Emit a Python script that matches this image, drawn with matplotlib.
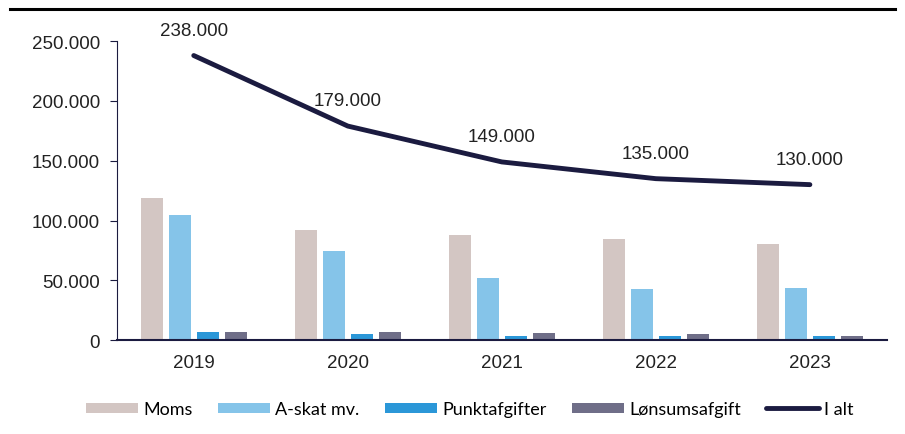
import matplotlib.pyplot as plt
import numpy as np
from matplotlib.lines import Line2D
from matplotlib.ticker import FuncFormatter

plt.rcParams['font.family'] = ['Liberation Sans', 'DejaVu Sans']

years = ["2019", "2020", "2021", "2022", "2023"]
moms = [119000, 92000, 87800, 84400, 80000]
askat = [104500, 74400, 51800, 42600, 43400]
punkt = [6700, 5300, 3500, 3500, 3500]
loen = [6700, 6700, 5500, 4700, 3000]
i_alt = [238000, 179000, 149000, 135000, 130000]

navy = "#1B1B40"
fig = plt.figure(figsize=(9.05, 4.35), dpi=100)
ax = fig.add_axes([0.129, 0.216, 0.851, 0.687])

x = np.arange(len(years))
w = 0.143
step = 0.182
series = [("Moms", moms, "#D3C6C3"), ("A-skat mv.", askat, "#85C4E9"),
          ("Punktafgifter", punkt, "#2B97D8"), ("Lønsumsafgift", loen, "#6F6E88")]
for i, (name, vals, col) in enumerate(series):
    ax.bar(x + (i - 1.5) * step, vals, width=w, color=col, label=name)

ax.plot(x, i_alt, color=navy, lw=3.5, solid_capstyle="round", label="I alt")
for xi, v in zip(x, i_alt):
    ax.annotate(f"{v:,}".replace(",", "."), (xi, v), xytext=(0, 15),
                textcoords="offset points", ha="center", fontsize=13.5,
                color="#222222")

ax.set_xlim(-0.5, 4.5)
ax.set_ylim(0, 250000)
ax.set_yticks(range(0, 250001, 50000))
ax.yaxis.set_major_formatter(FuncFormatter(lambda v, p: f"{int(v):,}".replace(",", ".")))
ax.set_xticks(x)
ax.set_xticklabels(years)
ax.tick_params(axis="x", length=0, pad=10, labelsize=13.5, labelcolor="#222222")
ax.tick_params(axis="y", length=5, color=navy, labelsize=13.5, pad=7, labelcolor="#222222")
for s in ["top", "right"]:
    ax.spines[s].set_visible(False)
ax.spines["left"].set_color(navy)
ax.spines["bottom"].set_color(navy)
ax.spines["bottom"].set_linewidth(1.5)

h, l = ax.get_legend_handles_labels()
order = [1, 2, 3, 4, 0]
ax.legend([h[i] for i in order], [l[i] for i in order], loc="upper center",
          bbox_to_anchor=(0.458, -0.15), ncol=5, frameon=False,
          prop={"family": "Lato", "size": 13}, handlelength=2.9, handleheight=0.5,
          handletextpad=0.28, columnspacing=1.4)

fig.add_artist(Line2D([0.011, 0.989], [0.977, 0.977], color="black", lw=2.2))

fig.savefig("out.png", dpi=100)
